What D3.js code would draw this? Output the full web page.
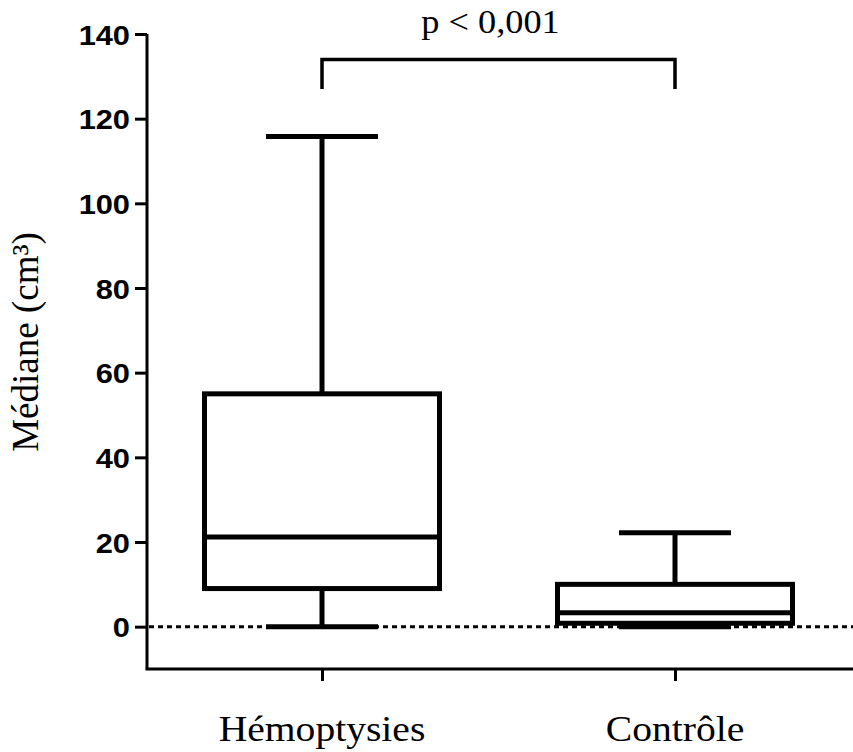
<!DOCTYPE html>
<html lang="fr">
<meta charset="utf-8">
<style>
  body { margin: 0; background: #fff; }
  .tick text { font-family: "Liberation Sans", Arial, sans-serif; font-weight: bold; font-size: 28px; fill: #000; }
  .serif { font-family: "Liberation Serif", "Times New Roman", serif; fill: #000; }
</style>
<body>
<div id="chart"></div>
<script src="https://d3js.org/d3.v7.min.js"></script>
<script>
  "use strict";

  // data
  const groups = ["Hémoptysies", "Contrôle"];
  const whiskerLow = [0, 0];
  const q1 = [9, 0.8];
  const median = [21.2, 3.3];
  const q3 = [55, 10];
  const whiskerHigh = [115.8, 22.2];
  const yTicks = [0, 20, 40, 60, 80, 100, 120, 140];
  const pLabel = "p < 0,001";
  const bracketBottom = 127, bracketTop = 134;

  const W = 853, H = 752;
  const margin = {top: 34, right: 0, bottom: 83, left: 147};
  const stretch = 1.1; // the source picture is a bit wider than tall

  const svg = d3.select("#chart").append("svg")
      .attr("width", W).attr("height", H);

  const y = d3.scaleLinear().domain([-10, 140]).range([669, 34]);
  const x = d3.scalePoint().domain(groups).range([322, 675]);
  const boxW = 235, capW = 112;

  // y axis
  const yAxis = svg.append("g")
      .attr("transform", "translate(" + margin.left + ",0)")
      .call(d3.axisLeft(y).tickValues(yTicks).tickSize(12).tickPadding(4).tickSizeOuter(0));
  yAxis.select(".domain").attr("stroke-width", 3).attr("d", "M0," + y(140) + "V" + y(-10));
  yAxis.selectAll(".tick line").attr("stroke-width", 3);
  yAxis.selectAll(".tick text")
      .attr("x", null).attr("dy", "0.36em")
      .attr("transform", "translate(-17,0) scale(" + stretch + ",1)");

  // x axis
  const xAxis = svg.append("g")
      .attr("transform", "translate(0," + y(-10) + ")")
      .call(d3.axisBottom(x).tickSize(12).tickSizeOuter(0).tickFormat(""));
  xAxis.select(".domain").attr("stroke-width", 3).attr("d", "M" + (margin.left - 1.5) + ",0H" + W);
  xAxis.selectAll(".tick line").attr("stroke-width", 3);

  // zero reference line
  svg.append("line")
      .attr("x1", margin.left + 2).attr("x2", W)
      .attr("y1", y(0)).attr("y2", y(0))
      .attr("stroke", "#000").attr("stroke-width", 3)
      .attr("stroke-dasharray", "5,4");

  // boxes
  const g = svg.append("g").attr("fill", "none").attr("stroke", "#000")
      .attr("stroke-width", 5);
  groups.forEach(function(name, i) {
    const cx = x(name);
    g.append("line").attr("x1", cx).attr("x2", cx)
        .attr("y1", y(whiskerHigh[i])).attr("y2", y(q3[i]));
    g.append("line").attr("x1", cx).attr("x2", cx)
        .attr("y1", y(q1[i])).attr("y2", y(whiskerLow[i]));
    g.append("line").attr("x1", cx - capW / 2).attr("x2", cx + capW / 2)
        .attr("y1", y(whiskerHigh[i])).attr("y2", y(whiskerHigh[i]));
    g.append("line").attr("x1", cx - capW / 2).attr("x2", cx + capW / 2)
        .attr("y1", y(whiskerLow[i])).attr("y2", y(whiskerLow[i]));
    g.append("rect").attr("x", cx - boxW / 2).attr("width", boxW)
        .attr("y", y(q3[i])).attr("height", y(q1[i]) - y(q3[i]))
        .attr("fill", "#fff");
    g.append("line").attr("x1", cx - boxW / 2).attr("x2", cx + boxW / 2)
        .attr("y1", y(median[i])).attr("y2", y(median[i]));
  });

  // significance bracket
  svg.append("path")
      .attr("d", "M" + x(groups[0]) + "," + y(bracketBottom) + "V" + y(bracketTop) +
                 "H" + x(groups[1]) + "V" + y(bracketBottom))
      .attr("fill", "none").attr("stroke", "#000").attr("stroke-width", 3.5);
  svg.append("text").attr("class", "serif")
      .attr("transform", "translate(" + ((x(groups[0]) + x(groups[1])) / 2 - 8) + ",33) scale(" + stretch + ",1)")
      .attr("text-anchor", "middle").style("font-size", "33px")
      .text(pLabel);

  // category labels
  groups.forEach(function(name) {
    svg.append("text").attr("class", "serif")
        .attr("transform", "translate(" + x(name) + ",741) scale(" + stretch + ",1)")
        .attr("text-anchor", "middle").style("font-size", "36px")
        .text(name);
  });

  // y label
  svg.append("text").attr("class", "serif")
      .attr("transform", "translate(38,342) rotate(-90)")
      .attr("text-anchor", "middle").style("font-size", "37px")
      .text("Médiane (cm³)");
</script>
</body>
</html>
